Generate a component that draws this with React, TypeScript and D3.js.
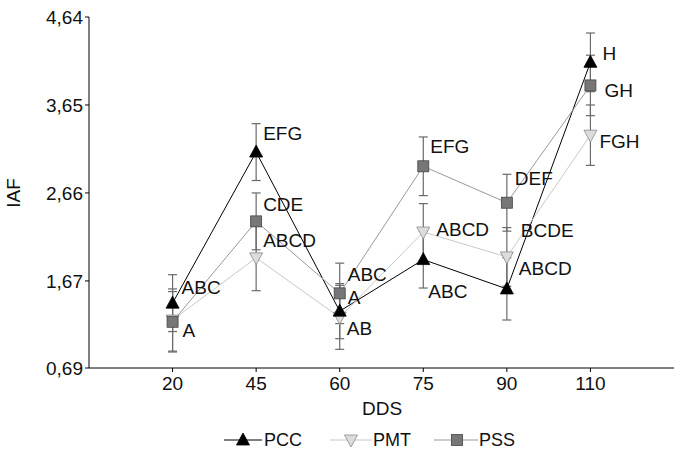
import React from "react";
import * as d3 from "d3";

const CATEGORIES = ["20", "45", "60", "75", "90", "110"];
const PCC = [1.42, 3.12, 1.33, 1.91, 1.58, 4.13];
const PCC_ERR = [0.32, 0.32, 0.31, 0.32, 0.35, 0.33];
const PMT = [1.23, 1.93, 1.26, 2.22, 1.94, 3.31];
const PMT_ERR = [0.35, 0.37, 0.36, 0.32, 0.33, 0.34];
const PSS = [1.21, 2.34, 1.53, 2.96, 2.55, 3.87];
const PSS_ERR = [0.34, 0.32, 0.34, 0.33, 0.32, 0.34];
const PCC_LETTERS = ["ABC", "EFG", "A", "ABC", "ABCD", "H"];
const PMT_LETTERS = ["", "ABCD", "AB", "ABCD", "BCDE", "FGH"];
const PSS_LETTERS = ["A", "CDE", "ABC", "EFG", "DEF", "GH"];
const Y_TICKS = [0.69, 1.67, 2.66, 3.65, 4.64];
const Y_DOMAIN = [0.69, 4.64];

// label placement offsets (pixels), styling only
const PCC_OFF = [[9, -16], [7, -19], [8, -14], [5, 32], [12, -21], [12, -9]];
const PMT_OFF = [[0, 0], [7, -17], [7, 11], [13, -3], [14, -27], [9, 6]];
const PSS_OFF = [[10, 9], [7, -17], [8, -19], [7, -20], [8, -24], [14, 5]];

const W = 674, H = 461;
const FONT = "'Liberation Sans', Arial, sans-serif";

type Series = {
  name: string; values: number[]; errs: number[]; letters: string[]; off: number[][];
  line: string; marker: "up" | "down" | "square"; fill: string; stroke: string;
};

const SERIES: Series[] = [
  { name: "PCC", values: PCC, errs: PCC_ERR, letters: PCC_LETTERS, off: PCC_OFF, line: "#000", marker: "up", fill: "#000", stroke: "#000" },
  { name: "PMT", values: PMT, errs: PMT_ERR, letters: PMT_LETTERS, off: PMT_OFF, line: "#c8c8c8", marker: "down", fill: "#dcdcdc", stroke: "#8a8a8a" },
  { name: "PSS", values: PSS, errs: PSS_ERR, letters: PSS_LETTERS, off: PSS_OFF, line: "#999", marker: "square", fill: "#777", stroke: "#444" },
];

function Marker({ kind, x, y, fill, stroke }: { kind: string; x: number; y: number; fill: string; stroke: string }) {
  if (kind === "square") return <rect x={x - 5.5} y={y - 5.5} width={11} height={11} fill={fill} stroke={stroke} strokeWidth={0.8} />;
  if (kind === "up") return <path d={`M${x},${y - 7}L${x + 6.5},${y + 5}L${x - 6.5},${y + 5}Z`} fill={fill} stroke={stroke} strokeWidth={0.8} />;
  return <path d={`M${x - 6.5},${y - 5}L${x + 6.5},${y - 5}L${x},${y + 7}Z`} fill={fill} stroke={stroke} strokeWidth={0.8} />;
}

export default function App() {
  const x = d3.scaleLinear().domain([0, CATEGORIES.length + 1]).range([89, 674]);
  const y = d3.scaleLinear().domain(Y_DOMAIN).range([368, 17]);
  const line = d3.line<number>().x((_, i) => x(i + 1)).y((v) => y(v));

  const legendItems = [
    { s: SERIES[0], x0: 224, x1: 262, mx: 243, tx: 264 },
    { s: SERIES[1], x0: 330, x1: 372, mx: 351, tx: 373 },
    { s: SERIES[2], x0: 434, x1: 478, mx: 457, tx: 479 },
  ];

  return (
    <svg width={W} height={H} style={{ position: "absolute", left: 0, top: 0, background: "#fff" }} fontFamily={FONT}>
      {/* axes */}
      <line x1={89} x2={89} y1={17} y2={368} stroke="#000" strokeWidth={1} />
      <line x1={89} x2={674} y1={368} y2={368} stroke="#000" strokeWidth={1} />
      {Y_TICKS.map((t) => (
        <g key={t}>
          <line x1={85} x2={89} y1={y(t)} y2={y(t)} stroke="#000" />
          <text x={83} y={y(t)} dy="0.35em" textAnchor="end" fontSize={19} fill="#111">{t.toFixed(2).replace(".", ",")}</text>
        </g>
      ))}
      {CATEGORIES.map((c, i) => (
        <g key={c}>
          <line x1={x(i + 1)} x2={x(i + 1)} y1={368} y2={372} stroke="#000" />
          <text x={x(i + 1)} y={390} textAnchor="middle" fontSize={19} fill="#111">{c}</text>
        </g>
      ))}
      <text x={382} y={415} textAnchor="middle" fontSize={19} fill="#111">DDS</text>
      <text transform={`translate(20,193) rotate(-90)`} textAnchor="middle" fontSize={19} fill="#111">IAF</text>

      {/* lines */}
      {SERIES.map((s) => (
        <path key={s.name} d={line(s.values) || ""} fill="none" stroke={s.line} strokeWidth={1} />
      ))}
      {/* error bars */}
      {SERIES.map((s) => s.values.map((v, i) => {
        const cx = x(i + 1), top = y(v + s.errs[i]), bot = y(v - s.errs[i]);
        return (
          <g key={s.name + i} stroke="#6a6a6a" strokeWidth={1.2}>
            <line x1={cx} x2={cx} y1={top} y2={bot} />
            <line x1={cx - 4.5} x2={cx + 4.5} y1={top} y2={top} />
            <line x1={cx - 4.5} x2={cx + 4.5} y1={bot} y2={bot} />
          </g>
        );
      }))}
      {/* markers */}
      {[SERIES[1], SERIES[2], SERIES[0]].map((s) => s.values.map((v, i) => (
        <Marker key={s.name + "m" + i} kind={s.marker} x={x(i + 1)} y={y(v)} fill={s.fill} stroke={s.stroke} />
      )))}
      {/* letters */}
      {SERIES.map((s) => s.letters.map((l, i) => l ? (
        <text key={s.name + "l" + i} x={x(i + 1) + s.off[i][0]} y={y(s.values[i]) + s.off[i][1]} dy="0.35em" fontSize={19} fill="#111">{l}</text>
      ) : null))}

      {/* legend */}
      {legendItems.map(({ s, x0, x1, mx, tx }) => (
        <g key={s.name}>
          <line x1={x0} x2={x1} y1={440} y2={440} stroke={s.line} strokeWidth={1} />
          <Marker kind={s.marker} x={mx} y={440} fill={s.fill} stroke={s.stroke} />
          <text x={tx} y={440} dy="0.35em" fontSize={18} fill="#111">{s.name}</text>
        </g>
      ))}
    </svg>
  );
}
